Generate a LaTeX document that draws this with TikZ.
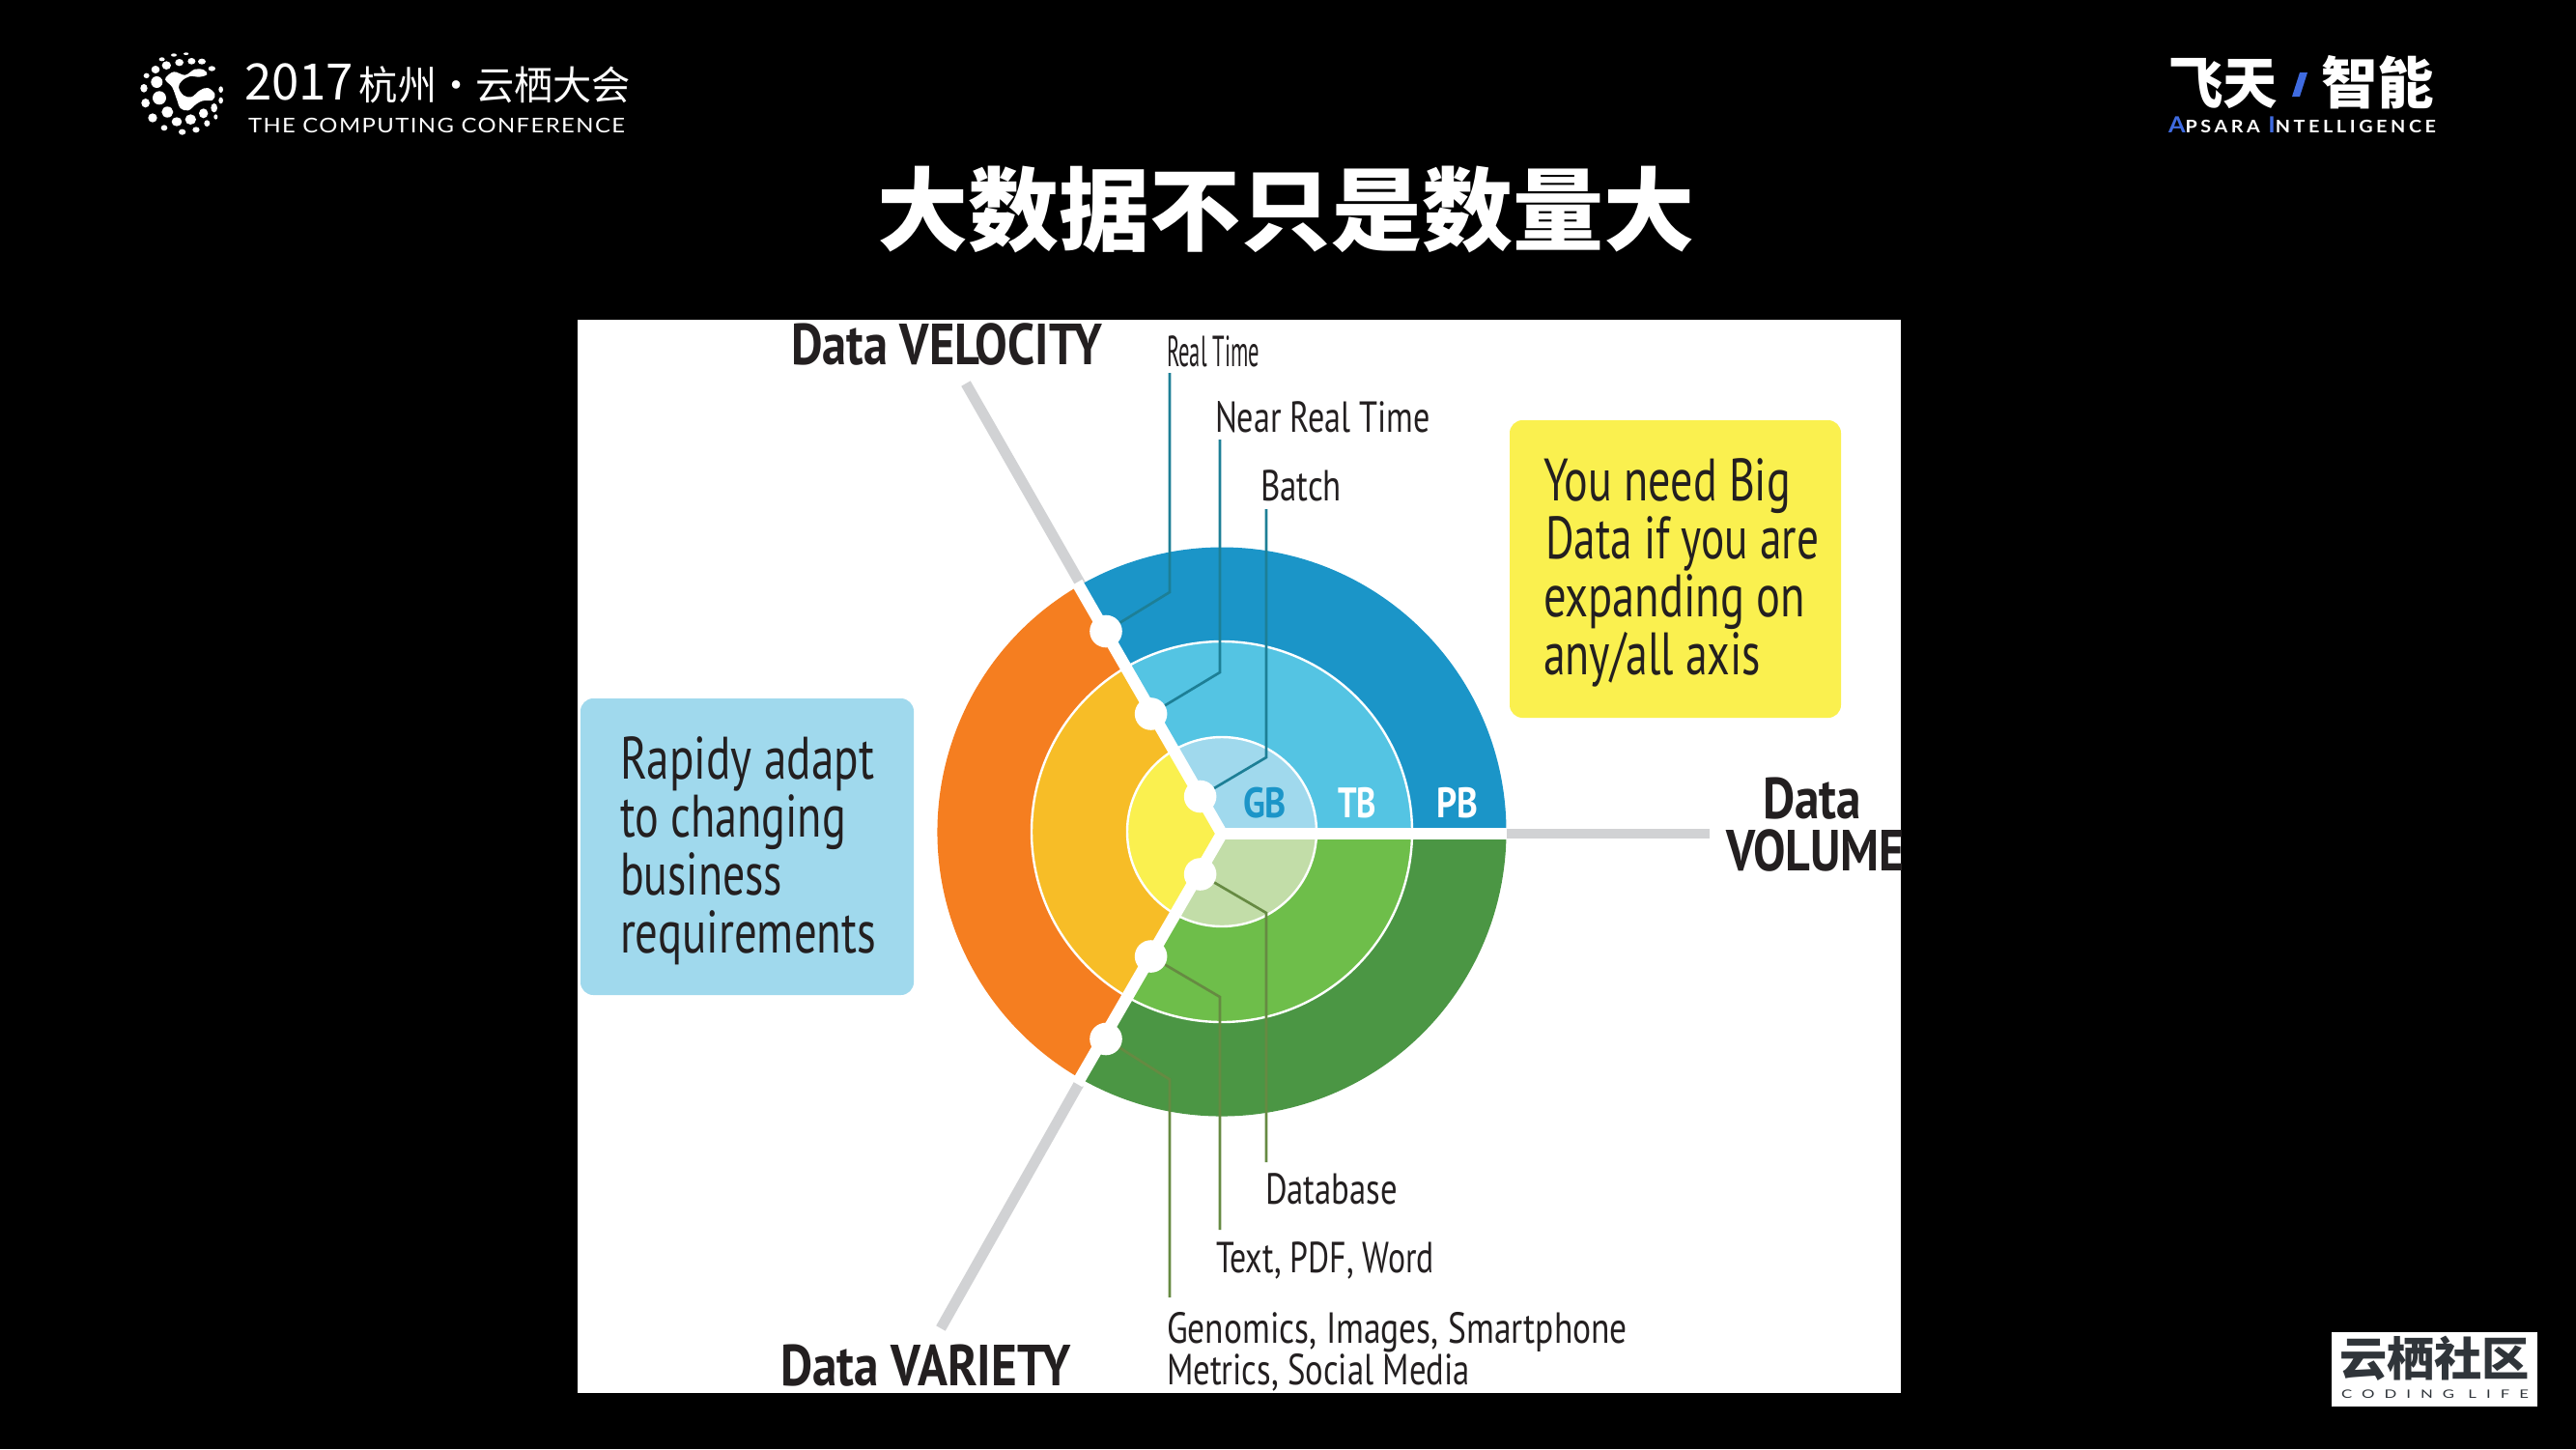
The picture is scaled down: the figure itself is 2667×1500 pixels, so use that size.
\documentclass[tikz,border=0pt]{standalone}
\usepackage{fontspec}
\usepackage{graphicx}
\setmainfont{PT Sans}
\newfontfamily\cjk{Noto Sans CJK SC}
\newfontfamily\lato{Lato}
\newfontfamily\latoA[LetterSpace=6]{Lato}
\newfontfamily\latoB[LetterSpace=18]{Lato}
\newfontfamily\latoC[LetterSpace=60]{Lato}
\newcommand\fs[1]{\pgfmathsetmacro\fsz{#1*0.375}\fontsize{\fsz pt}{\fsz pt}\selectfont}
\newsavebox\fitbox
\newdimen\fitd
\newcommand\fitw[2]{\sbox\fitbox{#2}\fitd=\wd\fitbox\pgfmathsetmacro\fitr{#1*0.375/\fitd}\scalebox{\fitr}[1]{\usebox\fitbox}}
\definecolor{inkc}{HTML}{231F20}
\definecolor{grayc}{HTML}{D1D2D4}
\definecolor{tealc}{HTML}{1D7F96}
\definecolor{olivec}{HTML}{668A42}
\definecolor{b1}{HTML}{1B95C8}\definecolor{b2}{HTML}{54C4E3}\definecolor{b3}{HTML}{A0D9ED}
\definecolor{g1}{HTML}{4B9644}\definecolor{g2}{HTML}{6EBE4A}\definecolor{g3}{HTML}{C2DDA8}
\definecolor{o1}{HTML}{F57E20}\definecolor{o2}{HTML}{F7BD27}\definecolor{o3}{HTML}{FAF04F}
\definecolor{logoblue}{HTML}{3F6BE0}
\definecolor{logoink}{HTML}{30353A}
\tikzset{
  txt/.style={inner sep=0pt,outer sep=0pt,anchor=base west,text=inkc},
  wtxt/.style={txt,text=white},
  axisgray/.style={draw=grayc,line width=4.1pt},
  axiswhite/.style={draw=white,line width=4.6pt},
  tealline/.style={draw=tealc,line width=1pt},
  oliveline/.style={draw=olivec,line width=1pt},
  dotnode/.style={circle,fill=white,minimum size=12.6pt,inner sep=0pt},
  ring/.style={draw=white,line width=0.9pt},
  callout/.style={rounded corners=5pt},
}
\newcommand\sect[4]{\fill[#1] (1265,-861) -- ++(#2:#4) arc[start angle=#2,end angle=#3,radius=#4] -- cycle;}
\begin{document}
\begin{tikzpicture}[x=.375pt,y=.375pt]
\useasboundingbox (0,0) rectangle (2667,-1500);
\fill[black] (0,0) rectangle (2667,-1500);
\fill[white] (598,-331) rectangle (1968,-1442);
% title
\node[wtxt] (title) at (908,-252) {\fitw{846}{\fs{94}\cjk\bfseries 大数据不只是数量大}};
% left logo
\begin{scope}[shift={(135,-47)},x=.125pt,y=.125pt,fill=white]
\foreach \a/\b/\c/\d in {135/30/9/5,173/26/8/4,98/43/9/6,152/53/13/11,190/49/12/10,222/50/12/9,253/72/11/8,112/62/14/13,78/75/13/12,50/94/9/8,82/114/18/18,42/133/11/13,90/163/21/21,47/179/13/14,69/225/14/14,115/207/18/17,105/256/10/9,144/237/16/14,187/230/17/16,161/269/11/9,204/262/11/9,227/211/14/15,238/242/9/10,260/194/10/14,265/222/6/8,281/171/7/10,281/137/7/10}
  \fill (\a,-\b) ellipse [x radius=\c,y radius=\d];
\fill plot[smooth cycle,tension=.6] coordinates {(110,-100)(135,-82)(170,-92)(200,-74)(228,-76)(238,-90)(215,-98)(185,-96)(160,-110)(150,-130)(165,-155)(190,-160)(215,-140)(240,-132)(262,-150)(255,-170)(225,-172)(205,-182)(180,-202)(155,-195)(145,-170)(130,-130)(112,-112)};
\end{scope}
\node[wtxt] (conf) at (253,-103) {\fitw{400}{\cjk{\fs{52}2017} \fs{41}杭州·云栖大会}};
\node[wtxt] (confen) at (257,-137) {\fitw{390}{\fs{21}\latoA THE COMPUTING CONFERENCE}};
% right logo
\node[wtxt] (fei) at (2245,-107) {\fitw{113}{\fs{58}\cjk\bfseries 飞天}};
\node[wtxt] (zhi) at (2403,-107) {\fitw{117}{\fs{58}\cjk\bfseries 智能}};
\fill[logoblue] (2381,-75) -- (2389,-75) -- (2381,-100) -- (2373,-100) -- cycle;
\node[wtxt] (aps) at (2245,-137) {\fitw{277}{\latoB\bfseries\fs{23}\textcolor{logoblue}{A}\fs{18}PSARA \fs{23}\textcolor{logoblue}{I}\fs{18}NTELLIGENCE}};
% bottom-right logo
\fill[white] (2414,-1379) rectangle (2627,-1456);
\node[txt,text=logoink] (yq) at (2422,-1424) {\fitw{197}{\fs{48}\cjk\bfseries 云栖社区}};
\node[txt,text=logoink] (cl) at (2424,-1447) {\fitw{194}{\fs{12}\latoC CODING LIFE}};
% diagram
\draw[axisgray] (1000,-397) -- (1119,-605);
\draw[axisgray] (974,-1375) -- (1117,-1122);
\draw[axisgray] (1558,-863) -- (1770,-863);
\sect{b1}{0}{120}{294.5}\sect{g1}{-120}{0}{294.5}\sect{o1}{120}{240}{294.5}
\sect{b2}{0}{120}{197}\sect{g2}{-120}{0}{197}\sect{o2}{120}{240}{197}
\sect{b3}{0}{120}{98}\sect{g3}{-120}{0}{98}\sect{o3}{120}{240}{98}
\draw[ring] (1265,-861) circle[radius=197];
\draw[ring] (1265,-861) circle[radius=98];
\draw[axiswhite,miter limit=10] (1115,-603) -- (1265,-863) -- (1115,-1122);
\draw[axiswhite] (1265,-863) -- (1560,-863);
% dots and labels
\coordinate (d1) at (1145,-653.5);\coordinate (d2) at (1191.6,-739);\coordinate (d3) at (1242.6,-824.5);
\coordinate (d4) at (1242.6,-905);\coordinate (d5) at (1191.6,-990);\coordinate (d6) at (1145,-1075.5);
\coordinate (r1) at (1211,-386);\coordinate (r2) at (1263,-455);\coordinate (r3) at (1311,-527);
\coordinate (s1) at (1311,-1203);\coordinate (s2) at (1263,-1273);\coordinate (s3) at (1211,-1343);
\draw[tealline] (d1) -- (1211,-613) -- (r1);
\draw[tealline] (d2) -- (1263,-696) -- (r2);
\draw[tealline] (d3) -- (1311,-784) -- (r3);
\draw[oliveline] (d4) -- (1311,-945) -- (s1);
\draw[oliveline] (d5) -- (1263,-1032) -- (s2);
\draw[oliveline] (d6) -- (1211,-1117.5) -- (s3);
\foreach \n in {d1,d2,d3,d4,d5,d6} \node[dotnode] (n\n) at (\n) {};
\node[txt,text=b1] (gb) at (1287,-846) {\fitw{45}{\fs{44}\bfseries GB}};
\node[wtxt] (tb) at (1385,-846) {\fitw{40}{\fs{44}\bfseries TB}};
\node[wtxt] (pb) at (1487,-846) {\fitw{43}{\fs{44}\bfseries PB}};
% callouts
\fill[o3,callout] (1563,-435) rectangle (1906,-743);
\fill[b3,callout] (601,-723) rectangle (946,-1030);
\node[txt] (y1) at (1598,-518) {\fitw{256}{\fs{62}You need Big}};
\node[txt] (y2) at (1600,-578) {\fitw{283}{\fs{62}Data if you are}};
\node[txt] (y3) at (1598,-638) {\fitw{271}{\fs{62}expanding on}};
\node[txt] (y4) at (1598,-698) {\fitw{225}{\fs{62}any/all axis}};
\node[txt] (b1t) at (642,-806) {\fitw{263}{\fs{62}Rapidy adapt}};
\node[txt] (b2t) at (642,-866) {\fitw{234}{\fs{62}to changing}};
\node[txt] (b3t) at (642,-926) {\fitw{168}{\fs{62}business}};
\node[txt] (b4t) at (642,-986) {\fitw{265}{\fs{62}requirements}};
% labels
\node[txt] (vel) at (819,-377) {\fitw{322}{\fs{60}\bfseries Data VELOCITY}};
\node[txt] (var) at (808,-1434) {\fitw{301}{\fs{60}\bfseries Data VARIETY}};
\node[txt] (vol1) at (1825,-847) {\fitw{102}{\fs{60}\bfseries Data}};
\begin{scope}
\clip (598,-331) rectangle (1968,-1442);
\node[txt] (vol2) at (1787,-901) {\fitw{185}{\fs{60}\bfseries VOLUME}};
\end{scope}
\node[txt] (l1) at (1208,-379) {\fitw{96}{\fs{45}Real Time}};
\node[txt] (l2) at (1258,-447) {\fitw{223}{\fs{45}Near Real Time}};
\node[txt] (l3) at (1305,-518) {\fitw{84}{\fs{45}Batch}};
\node[txt] (l4) at (1310,-1246) {\fitw{137}{\fs{45}Database}};
\node[txt] (l5) at (1259,-1317) {\fitw{226}{\fs{45}Text, PDF, Word}};
\node[txt] (l6) at (1208,-1390) {\fitw{477}{\fs{45}Genomics, Images, Smartphone}};
\node[txt] (l7) at (1208,-1433) {\fitw{314}{\fs{45}Metrics, Social Media}};
\end{tikzpicture}
\end{document}
